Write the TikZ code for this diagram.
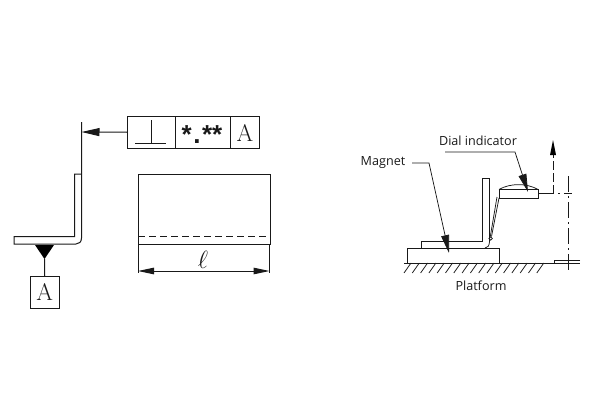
\documentclass[tikz,border=0pt]{standalone}
\usepackage{fontspec}
\newfontfamily\labelfont{Open Sans}
\newfontfamily\starfont{Liberation Sans}
\usetikzlibrary{arrows.meta}
\tikzstyle{thin line}=[line width=0.75pt]
\tikzstyle{long tip}=[-{Triangle[length=18pt,width=8pt]}]
\tikzstyle{both tips}=[{Triangle[length=16pt,width=6.5pt]}-{Triangle[length=16pt,width=6.5pt]}]
\tikzstyle{cell}=[draw, inner sep=0pt, anchor=north west]
\tikzstyle{caption}=[inner sep=0pt, font=\labelfont\fontsize{12.6}{14}\selectfont]
\tikzstyle{serif letter}=[inner sep=0pt, font=\fontsize{24}{26}\selectfont]

\begin{document}
\begin{tikzpicture}[x=1pt, y=-1pt, line width=1pt, black!90]
\useasboundingbox (0,0) rectangle (600,420);
% Angle profile
    \draw (81.5,122) -- (81.5,238) .. controls (81.5,242) and (79,244) .. (76,244)
        -- (14,244) -- (14,236.5) -- (74.5,236.5) -- (74.5,174) -- (81.5,174);
% Tolerance frame
    \node[cell, minimum width=47.5pt, minimum height=32.5pt] (perpcell) at (127,115.5) {};
    \node[cell, minimum width=55.5pt, minimum height=32.5pt] (valuecell) at (174.5,115.5) {};
    \node[cell, minimum width=29pt, minimum height=32.5pt] (refcell) at (230,115.5) {};
    \draw (135,143) -- (166,143);
    \draw (151,120) -- (151,143);
    \node[inner sep=0pt, font=\starfont\bfseries\fontsize{26}{28}\selectfont] (valuetext) at (202,135) {*\kern1.5pt.\kern1.5pt**};
    \node[serif letter] (reftext) at (245,133) {A};
    \coordinate (wallmark) at (81.5,132);
    \draw[long tip] (perpcell.west) -- (wallmark);
% Datum
    \node[cell, minimum width=29.5pt, minimum height=32pt] (datumbox) at (29.5,276) {};
    \node[serif letter] (datumtext) at (datumbox.center) {A};
    \coordinate (datumtip) at (44.5,259);
    \fill[black] (35,245) -- (54,245) -- (datumtip) -- cycle;
    \draw (datumtip) -- (datumbox.north);
% Front view
    \node[cell, minimum width=131.5pt, minimum height=70pt] (frontview) at (138,174) {};
    \draw[dash pattern=on 7pt off 4pt] (138,236.5) -- (269.5,236.5);
    \draw[thin line] (138,244) -- (138,273);
    \draw[thin line] (269.5,244) -- (269.5,273);
    \coordinate (dimleft) at (138,271);
    \coordinate (dimright) at (269.5,271);
    \draw[both tips] (dimleft) -- (dimright);
    \node[inner sep=0pt, font=\fontsize{26}{28}\selectfont] (lengthtext) at (203,260) {$\ell$};
% Platform
    \draw (404,263) -- (553,263);
    \draw[thin line] (411,263) -- (404,273);
    \draw[thin line] (419.3,263) -- (412.3,273);
    \draw[thin line] (427.6,263) -- (420.6,273);
    \draw[thin line] (435.9,263) -- (428.9,273);
    \draw[thin line] (444.2,263) -- (437.2,273);
    \draw[thin line] (452.5,263) -- (445.5,273);
    \draw[thin line] (460.8,263) -- (453.8,273);
    \draw[thin line] (469.1,263) -- (462.1,273);
    \draw[thin line] (477.4,263) -- (470.4,273);
    \draw[thin line] (485.7,263) -- (478.7,273);
    \draw[thin line] (494,263) -- (487,273);
    \draw[thin line] (502.3,263) -- (495.3,273);
    \draw[thin line] (510.6,263) -- (503.6,273);
    \draw[thin line] (518.9,263) -- (511.9,273);
    \draw[thin line] (527.2,263) -- (520.2,273);
    \draw[thin line] (535.5,263) -- (528.5,273);
    \draw[thin line] (543.8,263) -- (536.8,273);
    \draw (553,263) -- (580,263);
    \draw (580,260) -- (554,260) -- (554,263);
    \node[caption] (platformtext) at (481,286) {Platform};
% Magnet and specimen
    \draw (407.5,263) -- (407.5,248) -- (499,248) -- (499,263);
    \draw (421.7,248) -- (421.7,241) -- (482,241) -- (482,178) -- (489.5,178) -- (489.5,242);
    \draw[thin line] (485,248) .. controls (488,247.5) and (489,246) .. (489.5,242);
% Dial indicator
    \draw (499,189.5) -- (538,189.5) -- (538,198.5) -- (499,198.5) -- cycle;
    \draw[thin line] (499,189.5) .. controls (510,183) and (527,183) .. (538,189.5);
    \draw[thin line] (490.3,236.5) -- (497,197);
    \draw[thin line] (491.5,236.5) -- (499,198);
    \draw[thin line] (490.7,238.5) circle (1.7);
% Measuring direction and center line
    \draw[dash pattern=on 16pt off 4pt on 2pt off 4pt, thin line] (538,193.5) -- (572,193.5);
    \draw[dash pattern=on 16pt off 4pt on 2pt off 4pt, thin line] (568,176) -- (568,273);
    \coordinate (liftstart) at (553,193.5);
    \coordinate (lifttip) at (553,140);
    \draw[dash pattern=on 9pt off 3pt] (liftstart) -- (553,155);
    \fill[black] (lifttip) -- (556,155) -- (550,155) -- cycle;
% Leaders
    \node[caption] (magnettext) at (383,163) {Magnet};
    \coordinate (magnetknee) at (429,163);
    \coordinate (magnettip) at (449,253);
    \draw[long tip, thin line] (412,163) -- (magnetknee) -- (magnettip);
    \node[caption] (dialtext) at (478,141) {Dial indicator};
    \coordinate (dialknee) at (515,152);
    \coordinate (dialtip) at (528,192);
    \draw[long tip, thin line] (445,152) -- (dialknee) -- (dialtip);
\end{tikzpicture}
\end{document}
